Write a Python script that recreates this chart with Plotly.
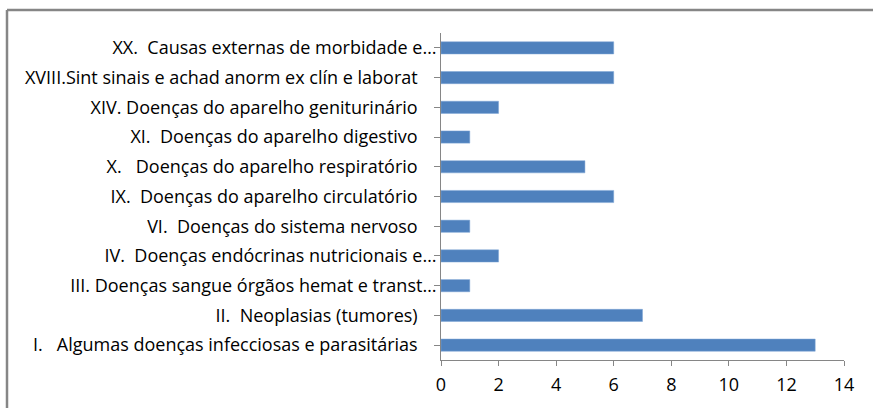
import plotly.graph_objects as go

categories = [
    "I.   Algumas doenças infecciosas e parasitárias",
    "II.  Neoplasias (tumores)",
    "III. Doenças sangue órgãos hemat e transt…",
    "IV.  Doenças endócrinas nutricionais e…",
    "VI.  Doenças do sistema nervoso",
    "IX.  Doenças do aparelho circulatório",
    "X.   Doenças do aparelho respiratório",
    "XI.  Doenças do aparelho digestivo",
    "XIV. Doenças do aparelho geniturinário",
    "XVIII.Sint sinais e achad anorm ex clín e laborat",
    "XX.  Causas externas de morbidade e…",
]
values = [13, 7, 1, 2, 1, 6, 5, 1, 2, 6, 6]
x_ticks = [0, 2, 4, 6, 8, 10, 12, 14]

W, H = 873, 408
L, R, T, B = 441, 844, 33, 360

def label_text(s):
    s = s.replace("  ", "\u00a0\u00a0")
    if not s.endswith("…"):
        s = s + "\u00a0" * 4 + "\u200b"
    return s

ticktext = [label_text(c) for c in categories]

fig = go.Figure(go.Bar(
    y=list(range(len(categories))),
    x=values,
    orientation="h",
    marker=dict(color="#4F81BD", line=dict(color="#7FA6D6", width=0.5)),
    width=0.41,
))

gray = "#868686"
fig.update_layout(
    width=W, height=H,
    margin=dict(l=L, r=W - R, t=T, b=H - B),
    paper_bgcolor="white", plot_bgcolor="white",
    showlegend=False,
    font=dict(family="Open Sans, Liberation Sans, Arial", size=15, color="#000000"),
    xaxis=dict(
        range=[0, 14], tickvals=x_ticks, showgrid=False, zeroline=False,
        showline=True, linecolor=gray, linewidth=1,
        ticks="outside", ticklen=5, tickcolor=gray,
        ticklabelstandoff=3,
        tickfont=dict(size=18),
    ),
    yaxis=dict(
        range=[-0.5, len(categories) - 0.5],
        tickvals=list(range(len(categories))), ticktext=ticktext,
        showgrid=False, zeroline=False,
        showline=True, linecolor=gray, linewidth=1,
        ticks="outside", ticklen=6, tickcolor=gray, tickson="boundaries",
        ticklabelstandoff=-6,
        tickfont=dict(size=18),
    ),
    shapes=[
        dict(type="line", xref="paper", yref="paper",
             x0=(7 - L) / (R - L), x1=(W + 5 - L) / (R - L),
             y0=(B - 10) / (B - T), y1=(B - 10) / (B - T),
             line=dict(color=gray, width=2.5)),
        dict(type="line", xref="paper", yref="paper",
             x0=(7 - L) / (R - L), x1=(7 - L) / (R - L),
             y0=(B - 10) / (B - T), y1=(B - H - 5) / (B - T),
             line=dict(color=gray, width=2.5)),
    ],
)

fig.write_html(
    "out.html",
    config={"displayModeBar": False},
    post_script="document.body.style.margin='0';document.body.style.overflow='hidden';",
)
